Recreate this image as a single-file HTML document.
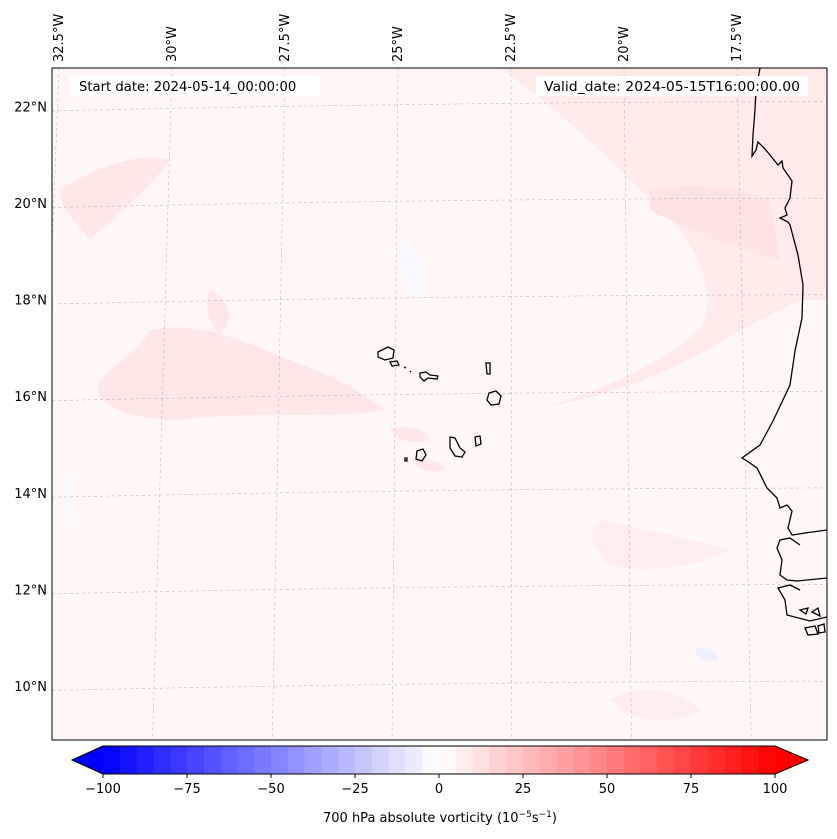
<!DOCTYPE html>
<html><head><meta charset="utf-8"><style>
html,body{margin:0;padding:0;background:#fff;}
svg{display:block;font-family:"DejaVu Sans","Liberation Sans",sans-serif;}
</style></head><body>
<svg id="chart" width="837" height="839" viewBox="0 0 837 839" xmlns="http://www.w3.org/2000/svg">
<defs><clipPath id="mapclip"><rect x="52" y="68" width="775" height="672"/></clipPath></defs>
<g clip-path="url(#mapclip)">
<rect x="52" y="68" width="775" height="672" fill="#fff6f6"/>
<g fill="#ffe7e7">
<path d="M500 68 C560 110 600 150 650 200 C700 240 720 300 700 330 C650 370 600 390 550 405 C600 400 680 370 740 330 L800 300 L827 300 L827 68 Z" fill="#ffeaea"/>
<path d="M650 190 C700 180 740 190 770 200 L780 260 C740 250 690 230 650 210 Z" fill="#ffe2e2"/>
<path d="M60 190 C90 170 140 150 170 160 C150 190 110 220 90 240 C75 220 60 210 60 190Z"/>
<path d="M150 330 C200 320 240 340 290 360 C330 375 360 390 385 410 C340 420 250 410 180 420 C120 420 90 400 100 380 C120 360 140 350 150 330Z"/>
<path d="M210 290 C230 300 235 320 220 335 C205 320 205 300 210 290Z"/>
<path d="M390 428 C410 425 430 430 430 440 C410 445 395 440 390 428Z"/>
<path d="M412 460 C430 458 445 462 445 470 C430 472 415 470 412 460Z"/>
<path d="M600 520 C650 530 690 540 730 550 C700 565 650 575 610 565 C590 550 590 530 600 520Z" fill="#ffeded"/>
<path d="M610 700 C640 680 680 690 700 710 C680 725 630 725 610 700Z" fill="#ffeded"/>
</g>
<g fill="#f7f7ff">
<path d="M400 240 C420 250 430 280 420 300 C405 290 395 260 400 240Z"/>
<path d="M695 648 C710 646 720 652 718 660 C705 664 695 658 695 648Z" fill="#eeeeff"/>
<path d="M65 470 C72 490 75 520 70 530 C65 510 63 490 65 470Z"/>
</g>
<g id="gridlines" stroke="#bbbbbb" stroke-width="0.6" stroke-dasharray="3,3" fill="none"></g>
<g fill="none" stroke="#000" stroke-width="1.3">
<path d="M760 68 L756 90 L755 110 L753 135 L752 156 L756 150 L758 142 L764 148 L770 155 L778 165 L782 161 L783 168 L792 181 L790 198 L785 208 L787 215 L780 218 L788 222 L790 225 L798 255 L803 285 L802 318 L795 351 L790 385 L773 421 L760 445 L742 458 L747 461 L757 468 L767 488 L777 498 L780 508 L787 505 L792 511 L788 528 L792 535 L805 533 L827 530"/>
<path d="M827 578 L797 581 L787 580 L780 575 L782 560 L777 548 L780 540 L790 538 L800 545"/>
<path d="M827 617 L810 621 L787 615 L785 600 L778 588 L790 585 L800 590"/>
<path d="M800 610 L808 608 L806 614 Z M812 612 L818 608 L820 616 Z M805 628 L815 626 L818 634 L808 635 Z M818 626 L824 624 L825 632 L819 633 Z"/>
<g>
<path d="M378 352 L388 347 L394 350 L393 358 L385 360 L378 357 Z"/>
<path d="M390 362 L397 361 L399 365 L392 366 Z"/>
<path d="M404 367 L406 368"/>
<path d="M410 371 L411 372"/>
<path d="M420 373 L426 372 L430 375 L438 376 L437 379 L428 378 L424 381 L420 377 Z"/>
<path d="M486 363 L490 363 L490 374 L487 374 Z"/>
<path d="M489 393 L496 391 L501 396 L499 404 L491 405 L487 400 Z"/>
<path d="M450 437 L455 438 L460 448 L465 452 L462 457 L455 456 L450 448 Z"/>
<path d="M475 437 L480 436 L481 444 L476 446 Z"/>
<path d="M417 451 L423 449 L426 455 L422 461 L416 459 Z"/>
<path d="M405 458 L407 458 L407 461 L405 461 Z"/>
</g>
</g>
<rect x="70" y="76" width="250" height="20" fill="#fff"/>
<text x="79" y="91" font-size="13.2" fill="#000">Start date: 2024-05-14_00:00:00</text>
<rect x="536" y="76" width="272" height="20" fill="#fff"/>
<text x="800" y="91" font-size="13.2" fill="#000" text-anchor="end" textLength="256" lengthAdjust="spacingAndGlyphs">Valid_date: 2024-05-15T16:00:00.00</text>
</g>
<rect x="52" y="68" width="775" height="672" fill="none" stroke="#000" stroke-width="1"/>
<g id="lonlabels" font-size="13"></g>
<g id="latlabels" font-size="13"></g>
<g id="colorbar"></g>
<text x="440" y="822" font-size="13" text-anchor="middle">700 hPa absolute vorticity (10<tspan font-size="9" dy="-5">−5</tspan><tspan dy="5">s</tspan><tspan font-size="9" dy="-5">−1</tspan><tspan dy="5">)</tspan></text>
</svg>
<script>
const lonLabels=["32.5°W","30°W","27.5°W","25°W","22.5°W","20°W","17.5°W"];
const lonValues=[-32.5,-30,-27.5,-25,-22.5,-20,-17.5];
const latLabels=["22°N","20°N","18°N","16°N","14°N","12°N","10°N"];
const latValues=[22,20,18,16,14,12,10];
const cbLevels=[-100,-95,-90,-85,-80,-75,-70,-65,-60,-55,-50,-45,-40,-35,-30,-25,-20,-15,-10,-5,0,5,10,15,20,25,30,35,40,45,50,55,60,65,70,75,80,85,90,95,100];
const cbTicks=[-100,-75,-50,-25,0,25,50,75,100];
const cbTickLabels=["−100","−75","−50","−25","0","25","50","75","100"];
const NS="http://www.w3.org/2000/svg";
function mk(t,a,p){const e=document.createElementNS(NS,t);for(const k in a)e.setAttribute(k,a[k]);p.appendChild(e);return e;}
function lonTopX(lon){return 398+(lon+25)*45.2;}
function lonBotX(lon){return 392+(lon+25)*47.9;}
function latY(lat,x){return 396-(lat-16)*48.3+(x-440)*(-0.012);}
const grid=document.getElementById('gridlines');
lonValues.forEach(v=>{const l=mk('line',{x1:lonTopX(v),y1:68,x2:lonBotX(v),y2:740},grid);

});
latValues.forEach(v=>{const l=mk('path',{d:`M52 ${latY(v,52)} Q440 ${latY(v,440)-4} 827 ${latY(v,827)}`},grid);

});
const lg=document.getElementById('lonlabels');
lonValues.forEach((v,i)=>{const x=lonTopX(v)+4;const t=mk('text',{x:0,y:0,transform:`translate(${x},62) rotate(-90)`},lg);t.textContent=lonLabels[i];

});
const tg=document.getElementById('latlabels');
latValues.forEach((v,i)=>{const t=mk('text',{x:47,y:latY(v,52)+0.5,'text-anchor':'end'},tg);t.textContent=latLabels[i];

});
const cb=document.getElementById('colorbar');
const cx0=103,cx1=775,cy0=746,cy1=774;
function cbX(v){return cx0+(v+100)/200*(cx1-cx0);}
function bwr(t){let r,g,b;if(t<0.5){const s=t/0.5;r=s*255;g=s*255;b=255;}else{const s=(t-0.5)/0.5;r=255;g=255*(1-s);b=255*(1-s);}
 return `rgb(${Math.round(r)},${Math.round(g)},${Math.round(b)})`;}
for(let i=0;i<cbLevels.length-1;i++){const a=cbLevels[i],b=cbLevels[i+1];const mid=(a+b)/2;
 const r=mk('rect',{x:cbX(a),y:cy0,width:cbX(b)-cbX(a)+0.5,height:cy1-cy0,fill:bwr((mid+100)/200)},cb);
 
 }
const lt=mk('path',{d:`M${cx0} ${cy0} L72 ${(cy0+cy1)/2} L${cx0} ${cy1} Z`,fill:'#0000ff'},cb);


const rt=mk('path',{d:`M${cx1} ${cy0} L808 ${(cy0+cy1)/2} L${cx1} ${cy1} Z`,fill:'#ff0000'},cb);


const ol=mk('path',{d:`M${cx0} ${cy0} L72 ${(cy0+cy1)/2} L${cx0} ${cy1} L${cx1} ${cy1} L808 ${(cy0+cy1)/2} L${cx1} ${cy0} Z`,fill:'none',stroke:'#000','stroke-width':1},cb);


cbTicks.forEach((v,i)=>{const x=cbX(v);mk('line',{x1:x,y1:cy1,x2:x,y2:cy1+4,stroke:'#000'},cb);
 const t=mk('text',{x:x,y:793,'text-anchor':'middle','font-size':13},cb);t.textContent=cbTickLabels[i];
 
 });
</script>
</body></html>
